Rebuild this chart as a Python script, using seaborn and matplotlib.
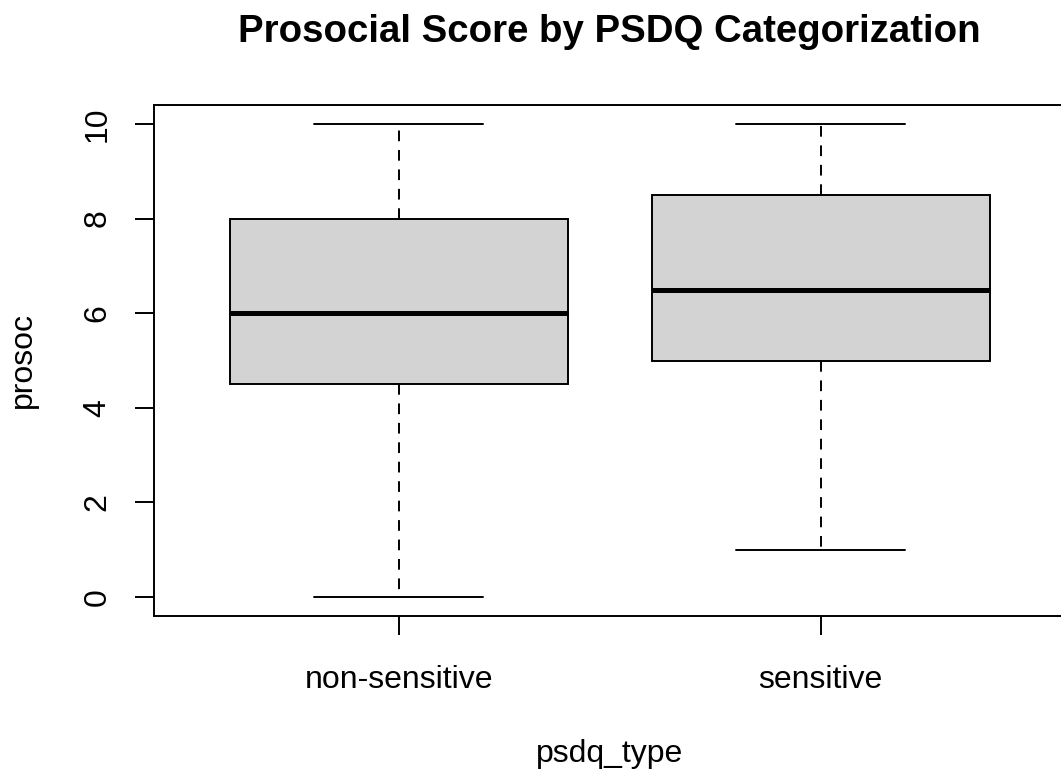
import matplotlib
matplotlib.use("Agg")
import matplotlib.pyplot as plt
import seaborn as sns
import pandas as pd

# Five-number summaries
categories = ["non-sensitive", "sensitive"]
mins = [0, 1]
q1s = [4.5, 5]
medians = [6, 6.5]
q3s = [8, 8.5]
maxs = [10, 10]
yticks = [0, 2, 4, 6, 8, 10]

rows = []
for c, a, b, m, d, e in zip(categories, mins, q1s, medians, q3s, maxs):
    for v in (a, b, m, d, e):
        rows.append({"psdq_type": c, "prosoc": v})
df = pd.DataFrame(rows)

sns.set_style("ticks")
plt.rcParams["font.family"] = ["Liberation Sans", "DejaVu Sans"]
plt.rcParams["text.color"] = "black"
plt.rcParams["axes.labelcolor"] = "black"

fig = plt.figure(figsize=(10.61, 7.76), dpi=100)
ax = fig.add_axes([154 / 1061, 160 / 776, 911.5 / 1061, 511 / 776])

lw = 1.4
sns.boxplot(
    data=df, x="psdq_type", y="prosoc", order=categories,
    color="#D3D3D3", width=0.8, whis=(0, 100), saturation=1,
    linecolor="black", linewidth=lw, ax=ax,
    boxprops=dict(facecolor="#D3D3D3", edgecolor="black", linewidth=lw),
    medianprops=dict(color="black", linewidth=3.6, solid_capstyle="butt"),
    whiskerprops=dict(color="black", linewidth=lw, linestyle=(0, (5.5, 4.5))),
    capprops=dict(color="black", linewidth=lw),
)

ax.set_xlim(-0.58, 1.58)
ax.set_ylim(-0.4, 10.4)
ax.set_yticks(yticks)
ax.set_yticklabels([str(t) for t in yticks], rotation=90, va="center")
for sp in ax.spines.values():
    sp.set_visible(True)
    sp.set_linewidth(1.4)
    sp.set_color("black")

ax.tick_params(axis="both", which="major", length=14, width=1.4, color="black",
               labelsize=23, labelcolor="black")
ax.tick_params(axis="y", pad=16)
ax.tick_params(axis="x", pad=21)

ax.set_xlabel("psdq_type", fontsize=23, labelpad=32, color="black")
ax.set_ylabel("prosoc", fontsize=23, labelpad=32, color="black")
ax.set_title("Prosocial Score by PSDQ Categorization", fontsize=27.6,
             fontweight="bold", pad=45, color="black")

fig.savefig("out.png", dpi=100, facecolor="white")
